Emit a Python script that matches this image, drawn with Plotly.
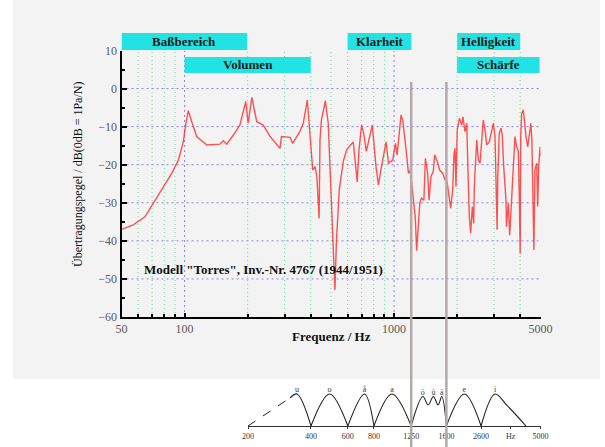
import math
import plotly.graph_objects as go

W, H = 605, 447

# ---------------- data: main response curve ----------------
freq_hz = [50, 56.9, 64.7, 70.9, 79.1, 86.8, 93.4, 98.6, 101.5, 104.2, 108.2, 114.3, 127.6,
           147.6, 153, 159, 171, 183.6, 196, 201, 209.6, 221, 237.6, 256, 285.6, 290, 318.6,
           328, 355, 368.7, 385.5, 397.5, 409, 419.6, 428, 438.7, 443, 450, 470, 485, 500,
           512.6, 522, 531, 547.5, 572, 594, 638.5, 667, 680, 700, 716, 737, 765, 787, 820,
           842, 871, 916, 940, 985, 1016, 1034, 1080, 1100, 1141, 1172, 1195, 1262, 1282,
           1300, 1327, 1350, 1388, 1411, 1447, 1469, 1500, 1539, 1562, 1609, 1651, 1707,
           1751, 1790, 1816, 1863, 1905, 1933, 1954, 1975, 2002, 2051, 2103, 2133, 2179,
           2222, 2262, 2287, 2320, 2363, 2400, 2415, 2480, 2525, 2572, 2620, 2666, 2717,
           2768, 2848, 2925, 2980, 3032, 3066, 3104, 3124, 3177, 3239, 3285, 3337, 3422,
           3440, 3510, 3564, 3644, 3709, 3776, 3850, 3917, 3955, 4000, 4022, 4067, 4140,
           4185, 4263, 4345, 4421, 4497, 4547, 4620, 4650, 4703, 4795, 4848, 4902, 4973, 5000]
level_db = [-37.0, -35.8, -33.7, -30.1, -25.8, -22.3, -18.8, -14.0, -9.1, -5.8, -8.7, -12.6, -14.8,
            -14.6, -13.7, -14.6, -12.2, -9.6, -3.4, -9.1, -2.3, -8.7, -9.6, -12.6, -15.7, -12.6, -12.8,
            -14.4, -11.3, -9.1, -3.0, -11.7, -21.4, -20.5, -23.1, -34.1, -13.5, -8.3, -3.2, -9.1, -26.6,
            -39.8, -52.9, -39.8, -26.6, -19.2, -16.1, -14.0, -24.5, -16.1, -9.6, -11.7, -16.5, -12.6, -9.6, -20.5,
            -25.3, -20.5, -14.0, -19.6, -18.8, -14.4, -17.4, -6.9, -8.3, -16.1, -22.3, -21.4, -33.7, -42.6,
            -37.1, -30.1, -28.8, -29.3, -18.3, -22.3, -29.3, -23.1, -21.8, -17.4, -19.2, -21.4, -22.3,
            -24.0, -24.5, -26.6, -31.4, -26.6, -17.0, -15.7, -25.8, -10.9, -7.8, -9.6, -7.4, -11.3,
            -9.1, -24.9, -33.7, -38.0, -31.0, -35.4, -25.8, -13.5, -18.8, -19.6, -14.4, -8.3, -10.9,
            -14.8, -14.0, -10.9, -9.1, -12.6, -23.1, -37.1, -24.0, -11.7, -10.4, -12.2, -20.5, -29.3,
            -36.3, -30.1, -38.5, -29.3, -22.3, -12.6, -15.3, -16.5, -26.6, -43.3, -12.6, -6.5, -5.6,
            -9.1, -12.6, -15.3, -12.2, -9.1, -13.5, -33.7, -42.4, -21.4, -19.6, -31.0, -20.5, -15.3, -17.9]

# axis ticks / grid
x_tick_vals = [50, 100, 1000, 5000]
x_tick_text = ["50", "100", "1000", "5000"]
x_minor_vals = [60, 70, 80, 90, 200, 300, 400, 500, 600, 700, 800, 900, 2000, 3000, 4000]
x_decade_grid = [100, 1000]
y_grid_vals = [0, -10, -20, -30, -40, -50]

# labelled frequency bands
band_names = ["Baßbereich", "Volumen", "Klarheit", "Helligkeit", "Schärfe"]
band_lo_hz = [50, 100, 600, 2000, 2000]
band_hi_hz = [199, 400, 1210, 4000, 4950]
band_row = [0, 1, 0, 0, 1]

# ---------------- data: vowel formant sketch ----------------
vowel_dash_x = [200, 318]
vowel_dash_y = [0, 0.88]
vowel_curve_x = [318, 343, 400, None, 400, 491, 600, None, 600, 721, 800, None, 800, 975, 1205, None,
                 1205, 1370, 1452, 1539, 1620, 1688, 1775, None, 1775, 2164, 2600, None,
                 2600, 3032, 3440, 4263]
vowel_curve_y = [0.88, 1, 0, None, 0, 1, 0, None, 0, 1, 0, None, 0, 1, 0, None,
                 0, 0.92, 0.66, 0.92, 0.66, 0.92, 0, None, 0, 1, 0, None,
                 0, 1, 0.66, 0]
vowel_names = ["u", "o", "å", "a", "ö", "ü", "ä", "e", "i"]
vowel_peak_hz = [343, 491, 721, 975, 1370, 1539, 1688, 2164, 3032]
vowel_peak_lv = [1, 1, 1, 1, 0.92, 0.92, 0.92, 1, 1]
vowel_tick_pos = [200, 400, 600, 800, 1205, 1775, 2600, 3600, 5000]
vowel_tick_text = ["200", "400", "600", "800", "1250", "1600", "2600", "Hz", "5000"]
divider_hz = [1205, 1775]

SERIF = "Liberation Serif, Times New Roman, serif"


def py(px):
    """pixel row -> paper y"""
    return 1 - px / H


def pxx(px):
    return px / W


fig = go.Figure()

fig.add_trace(go.Scatter(
    x=freq_hz, y=level_db, mode="lines",
    line=dict(color="rgba(255,45,45,0.82)", width=1.4),
    xaxis="x", yaxis="y", hoverinfo="skip", showlegend=False))

fig.add_trace(go.Scatter(
    x=vowel_dash_x, y=vowel_dash_y, mode="lines",
    line=dict(color="#222", width=1, dash="dash"),
    xaxis="x2", yaxis="y2", showlegend=False, hoverinfo="skip"))
fig.add_trace(go.Scatter(
    x=vowel_curve_x, y=vowel_curve_y, mode="lines",
    line=dict(color="#222", width=1.1, shape="spline", smoothing=1.0),
    xaxis="x2", yaxis="y2", showlegend=False, hoverinfo="skip"))
fig.add_trace(go.Scatter(
    x=vowel_peak_hz, y=vowel_peak_lv, mode="text", text=vowel_names,
    textposition="top center", textfont=dict(family=SERIF, size=8, color="#333"),
    cliponaxis=False, xaxis="x2", yaxis="y2", showlegend=False, hoverinfo="skip"))

shapes = []
# gray panel
shapes.append(dict(type="rect", xref="paper", yref="paper", x0=pxx(13), x1=pxx(600),
                   y0=py(379), y1=1, fillcolor="#f3f3f3", line=dict(width=0), layer="below"))
# grid lines
for f in x_minor_vals:
    shapes.append(dict(type="line", xref="x", yref="y", x0=f, x1=f, y0=-60, y1=10,
                       line=dict(color="rgba(80,210,140,0.8)", width=1, dash="1px,3px"),
                       layer="below"))
for f in x_decade_grid:
    shapes.append(dict(type="line", xref="x", yref="y", x0=f, x1=f, y0=-60, y1=10,
                       line=dict(color="rgba(130,120,220,0.9)", width=1, dash="2px,3px"),
                       layer="below"))
for v in y_grid_vals:
    shapes.append(dict(type="line", xref="x", yref="y", x0=50, x1=5000, y0=v, y1=v,
                       line=dict(color="rgba(130,120,220,0.9)", width=1, dash="2px,3px"),
                       layer="below"))

# band boxes
row_px = [(33, 50), (57, 73)]
annotations = []
for name, lo, hi, row in zip(band_names, band_lo_hz, band_hi_hz, band_row):
    top, bot = row_px[row]
    shapes.append(dict(type="rect", xref="x", yref="paper", x0=lo, x1=hi, y0=py(bot), y1=py(top),
                       fillcolor="#22e3e3", line=dict(width=0), layer="above"))
    # annotation x on a log axis is given in log10 units
    annotations.append(dict(x=(math.log10(lo) + math.log10(hi)) / 2, y=py((top + bot) / 2),
                            xref="x", yref="paper",
                            text=f"<b>{name}</b>", showarrow=False,
                            font=dict(family=SERIF, size=13, color="#1a1a1a"),
                            xanchor="center", yanchor="middle"))

# gray divider lines
for f in divider_hz:
    shapes.append(dict(type="line", xref="x2", yref="paper", x0=f, x1=f, y0=0, y1=py(82),
                       line=dict(color="#b3a9a9", width=2.5), layer="above"))

annotations += [
    dict(x=pxx(331), y=py(336), xref="paper", yref="paper", text="<b>Frequenz / Hz</b>",
         showarrow=False, font=dict(family=SERIF, size=13, color="#111"),
         xanchor="center", yanchor="middle"),
    dict(x=pxx(78), y=py(175), xref="paper", yref="paper",
         text="Übertragungspegel / dB(0dB = 1Pa/N)", textangle=-90,
         showarrow=False, font=dict(family=SERIF, size=12, color="#111"),
         xanchor="center", yanchor="middle"),
    dict(x=pxx(263), y=py(269), xref="paper", yref="paper",
         text="<b>Modell \"Torres\", Inv.-Nr. 4767 (1944/1951)</b>",
         showarrow=False, font=dict(family=SERIF, size=13, color="#111"),
         xanchor="center", yanchor="middle"),
]

fig.update_layout(
    template="none",
    width=W, height=H,
    margin=dict(l=0, r=0, t=0, b=0, pad=0, autoexpand=False),
    paper_bgcolor="white", plot_bgcolor="rgba(0,0,0,0)",
    font=dict(family=SERIF),
    showlegend=False,
    shapes=shapes, annotations=annotations,
    xaxis=dict(type="log", domain=[pxx(121.5), pxx(540.5)],
               range=[math.log10(50), math.log10(5000)], automargin=False,
               tickmode="array", tickvals=x_tick_vals, ticktext=x_tick_text,
               ticks="inside", ticklen=4, tickwidth=2, tickcolor="black",
               showline=True, linecolor="black", linewidth=2,
               showgrid=False, zeroline=False, anchor="y",
               tickfont=dict(family=SERIF, size=12, color="#5a5a5a"),
               minor=dict(tickmode="array", tickvals=x_minor_vals, ticks="inside",
                          ticklen=3, tickwidth=2, tickcolor="black", showgrid=False)),
    yaxis=dict(domain=[py(317), py(50.5)], range=[-60, 10], dtick=10, automargin=False,
               ticks="inside", ticklen=5, tickwidth=2, tickcolor="black",
               showline=True, linecolor="black", linewidth=2,
               showgrid=False, zeroline=False, anchor="x",
               tickfont=dict(family=SERIF, size=12, color="#5a5a5a"),
               minor=dict(dtick=5, ticks="inside", ticklen=3, tickwidth=2,
                          tickcolor="black", showgrid=False)),
    xaxis2=dict(type="log", domain=[pxx(248), pxx(540.5)],
                range=[math.log10(200), math.log10(5000)], automargin=False,
                tickmode="array", tickvals=vowel_tick_pos, ticktext=vowel_tick_text,
                ticks="outside", ticklen=2, tickcolor="#333",
                showline=True, linecolor="#333", linewidth=1,
                showgrid=False, zeroline=False, anchor="y2",
                tickfont=dict(family=SERIF, size=8, color="#333")),
    yaxis2=dict(domain=[py(426), py(426 - 35.2)], range=[0, 1.1], visible=False,
                automargin=False, anchor="x2", showgrid=False, zeroline=False),
)

fig.write_html(
    "out.html",
    config={"displayModeBar": False, "responsive": False},
    post_script=("document.documentElement.style.margin='0';"
                 "document.documentElement.style.overflow='hidden';"
                 "document.body.style.margin='0';document.body.style.padding='0';"
                 "document.body.style.overflow='hidden';"),
)
